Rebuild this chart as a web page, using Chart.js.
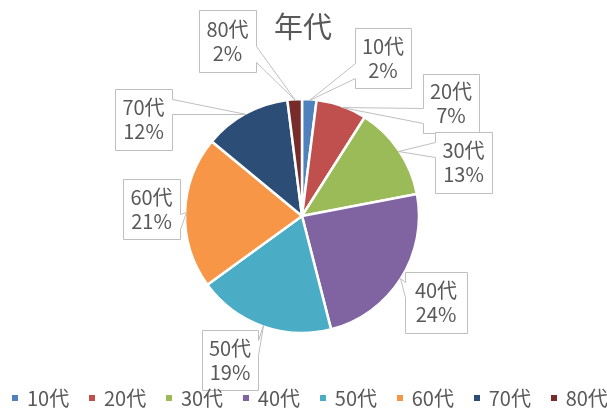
<!DOCTYPE html>
<html>
<head>
<meta charset="utf-8">
<script src="https://cdn.jsdelivr.net/npm/chart.js@4/dist/chart.umd.min.js"></script>
<style>
  html, body { margin: 0; padding: 0; background: #ffffff; }
  #wrap { width: 607px; height: 408px; }
</style>
</head>
<body>
<div id="wrap"><canvas id="c" width="607" height="408"></canvas></div>
<script>
// ---- data ----
const chartTitle = "年代";
const categories = ["10代", "20代", "30代", "40代", "50代", "60代", "70代", "80代"];
const shares = [2, 7, 13, 24, 19, 21, 12, 2];

// ---- styles / layout (not data) ----
const sliceColors = ["#4F81BD", "#C0504D", "#9BBB59", "#8064A2", "#4BACC6", "#F79646", "#2C4D75", "#772C2A"];
const textColor = "#595959";
const boxBorder = "#BFBFBF";
const fontFamily = '"Noto Sans CJK JP", "Noto Sans", sans-serif';
// label box rectangles [x, y, w, h]
const labelBoxes = [
  [355, 28, 56, 60],
  [423, 74, 56, 59],
  [435, 132, 57, 61],
  [405, 272, 62, 61],
  [202, 330, 56, 60],
  [123, 179, 57, 60],
  [115, 89, 57, 61],
  [199, 10, 57, 62]
];

const calloutPlugin = {
  id: 'callouts',
  afterDatasetsDraw(chart) {
    const ctx = chart.ctx;
    const meta = chart.getDatasetMeta(0);
    const ds = chart.data.datasets[0];
    ctx.save();
    meta.data.forEach((arc, i) => {
      const p = arc.getProps(['x', 'y', 'startAngle', 'endAngle', 'outerRadius'], true);
      const mid = (p.startAngle + p.endAngle) / 2;
      const R = p.outerRadius - 1;
      const tx = p.x + Math.cos(mid) * R;
      const ty = p.y + Math.sin(mid) * R;
      const [x, y, w, h] = labelBoxes[i];
      const cx = x + w / 2, cy = y + h / 2;
      const dx = tx - cx, dy = ty - cy;
      let side;
      if (Math.abs(dx) * h / w > Math.abs(dy)) side = dx < 0 ? 'left' : 'right';
      else side = dy < 0 ? 'top' : 'bottom';
      const pts = [];
      // top
      pts.push([x, y]);
      if (side === 'top') {
        const b1 = x + w * (dx > 0 ? 7 : 2) / 12, b2 = x + w * (dx > 0 ? 10 : 5) / 12;
        pts.push([b1, y], [tx, ty], [b2, y]);
      }
      pts.push([x + w, y]);
      if (side === 'right') {
        const b1 = y + h * (dy > 0 ? 7 : 2) / 12, b2 = y + h * (dy > 0 ? 10 : 5) / 12;
        pts.push([x + w, b1], [tx, ty], [x + w, b2]);
      }
      pts.push([x + w, y + h]);
      if (side === 'bottom') {
        const b1 = x + w * (dx > 0 ? 7 : 2) / 12, b2 = x + w * (dx > 0 ? 10 : 5) / 12;
        pts.push([b2, y + h], [tx, ty], [b1, y + h]);
      }
      pts.push([x, y + h]);
      if (side === 'left') {
        const b1 = y + h * (dy > 0 ? 7 : 2) / 12, b2 = y + h * (dy > 0 ? 10 : 5) / 12;
        pts.push([x, b2], [tx, ty], [x, b1]);
      }
      ctx.beginPath();
      pts.forEach((pt, k) => {
        const px = Math.round(pt[0]) + 0.5, py = Math.round(pt[1]) + 0.5;
        if (k === 0) ctx.moveTo(px, py); else ctx.lineTo(px, py);
      });
      ctx.closePath();
      ctx.fillStyle = '#ffffff';
      ctx.fill();
      ctx.lineWidth = 1;
      ctx.strokeStyle = boxBorder;
      ctx.stroke();

      ctx.fillStyle = textColor;
      ctx.font = '20px ' + fontFamily;
      ctx.textAlign = 'center';
      ctx.textBaseline = 'alphabetic';
      ctx.fillText(chart.data.labels[i], cx, cy - 4.5);
      ctx.fillText(ds.data[i] + '%', cx, cy + 19.5);
    });
    ctx.restore();
  },
  afterDraw(chart) {
    const ctx = chart.ctx;
    ctx.save();
    // title
    ctx.fillStyle = textColor;
    ctx.font = '29px ' + fontFamily;
    ctx.textAlign = 'center';
    ctx.textBaseline = 'middle';
    ctx.fillText(chartTitle, 303, 27);
    // legend
    const ds = chart.data.datasets[0];
    ctx.font = '20px ' + fontFamily;
    ctx.textAlign = 'left';
    ctx.textBaseline = 'alphabetic';
    chart.data.labels.forEach((lab, i) => {
      const lx = 12 + i * 76.95;
      ctx.fillStyle = ds.backgroundColor[i];
      ctx.fillRect(Math.round(lx), 395, 6, 6);
      ctx.fillStyle = textColor;
      ctx.fillText(lab, lx + 15, 406);
    });
    ctx.restore();
  }
};

new Chart(document.getElementById('c'), {
  type: 'pie',
  data: {
    labels: categories,
    datasets: [{
      data: shares,
      backgroundColor: sliceColors,
      borderColor: '#ffffff',
      borderWidth: 2.5,
      hoverOffset: 0
    }]
  },
  options: {
    responsive: false,
    animation: false,
    radius: 117,
    layout: { padding: { left: 0, right: 3, top: 24, bottom: 0 } },
    plugins: {
      legend: { display: false },
      title: { display: false },
      tooltip: { enabled: false }
    }
  },
  plugins: [calloutPlugin]
});
</script>
</body>
</html>
